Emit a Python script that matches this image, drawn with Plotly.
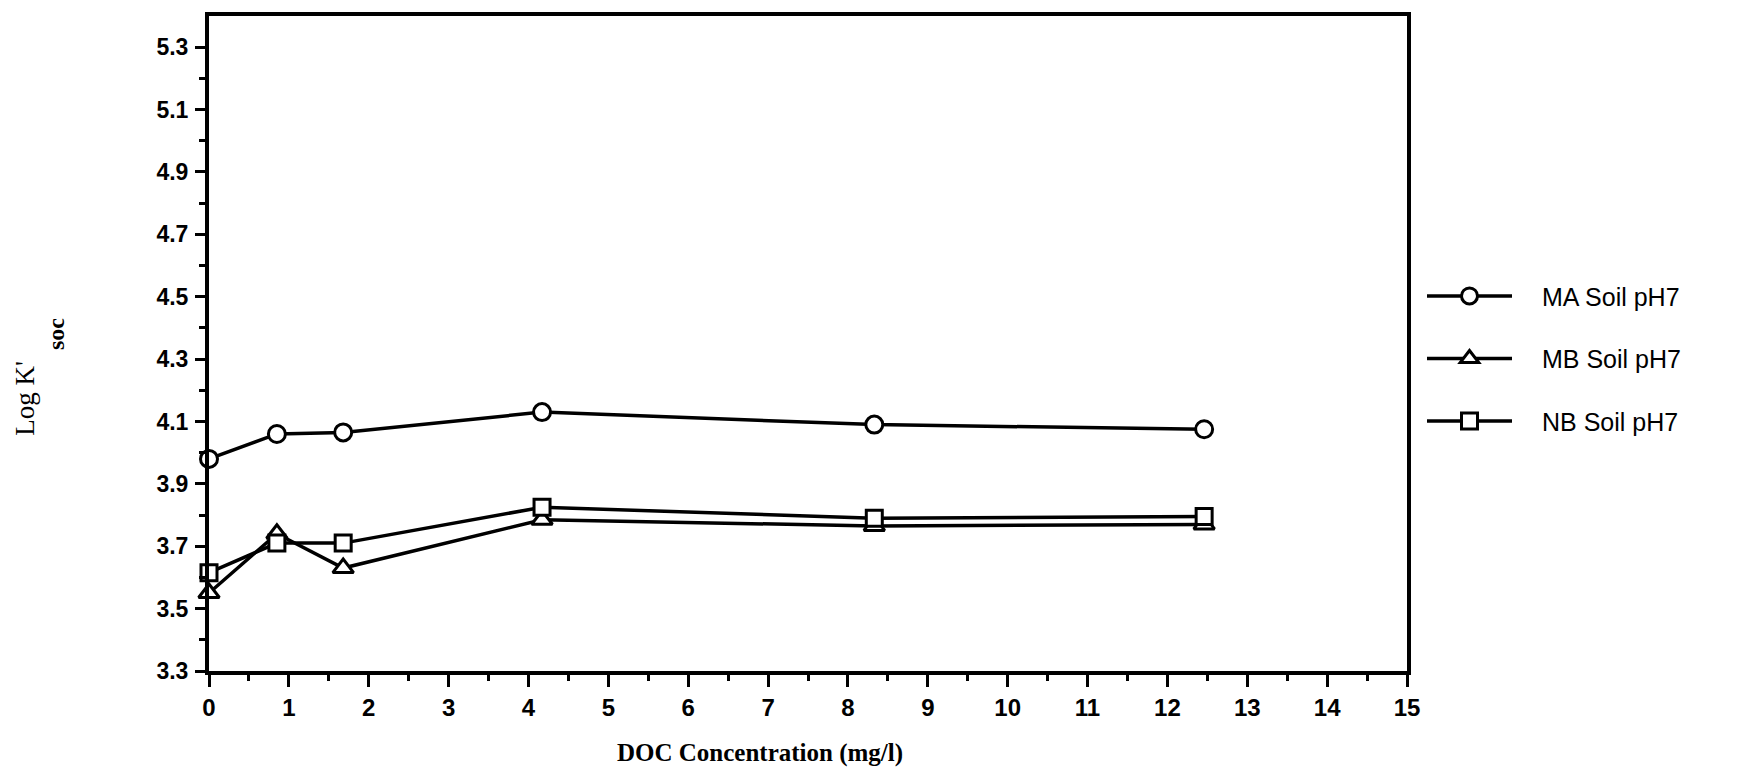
import plotly.graph_objects as go

# DOC concentration (mg/l)
doc_conc = [0, 0.85, 1.68, 4.17, 8.33, 12.46]

# Log K'soc for each soil at pH 7
ma_soil = [3.98, 4.06, 4.065, 4.13, 4.09, 4.075]
mb_soil = [3.55, 3.74, 3.63, 3.785, 3.765, 3.77]
nb_soil = [3.615, 3.71, 3.71, 3.825, 3.79, 3.795]

series_names = ["MA Soil pH7", "MB Soil pH7", "NB Soil pH7"]
series_values = [ma_soil, mb_soil, nb_soil]
series_symbols = ["circle", "triangle-up", "square"]
series_sizes = [17, 18, 16]

y_major = [3.3, 3.5, 3.7, 3.9, 4.1, 4.3, 4.5, 4.7, 4.9, 5.1, 5.3]
y_minor = [3.4, 3.6, 3.8, 4.0, 4.2, 4.4, 4.6, 4.8, 5.0, 5.2]

W, H = 1751, 769
M_L, M_R, M_T, M_B = 209, 344, 14, 98

fig = go.Figure()
for i, (name, vals, sym, sz) in enumerate(zip(series_names, series_values, series_symbols, series_sizes)):
    fig.add_trace(go.Scatter(
        x=doc_conc, y=vals,
        # en spaces open a gap between the legend sample and its label
        name="\u2002\u2002" + name,
        mode="lines+markers",
        legendgroup=f"g{i}",
        line=dict(color="black", width=3.5),
        marker=dict(symbol=sym, size=sz, color="white",
                    line=dict(color="black", width=3)),
        cliponaxis=False,
    ))

tick_font = dict(family="Liberation Sans, Arial, sans-serif", size=24, color="black", weight="bold")

fig.update_xaxes(
    range=[0, 15], tickmode="linear", tick0=0, dtick=1,
    showgrid=False, zeroline=False,
    showline=True, linewidth=4, linecolor="black", mirror=True,
    ticks="outside", ticklen=12, tickwidth=3, tickcolor="black",
    tickfont=tick_font, ticklabelstandoff=0,
    minor=dict(tickmode="linear", tick0=0, dtick=0.5, ticks="outside",
               ticklen=6, tickwidth=3, tickcolor="black"),
)
fig.update_yaxes(
    range=[3.3, 5.4], tickmode="array", tickvals=y_major,
    ticktext=[f"{v:.1f}" for v in y_major],
    showgrid=False, zeroline=False,
    showline=True, linewidth=4, linecolor="black", mirror=True,
    ticks="outside", ticklen=10, tickwidth=3, tickcolor="black",
    tickfont=dict(tick_font, size=23), ticklabelstandoff=2,
    minor=dict(tickmode="array", tickvals=y_minor, ticks="outside",
               ticklen=6, tickwidth=3, tickcolor="black"),
)

plot_w = W - M_L - M_R
plot_h = H - M_T - M_B


def px_to_paper_x(px):
    return (px - M_L) / plot_w


def px_to_paper_y(py):
    return (H - M_B - py) / plot_h


serif = "Liberation Serif, Times New Roman, serif"
annotations = [
    dict(text="DOC Concentration (mg/l)", x=px_to_paper_x(760), y=px_to_paper_y(753),
         xref="paper", yref="paper", xanchor="center", yanchor="middle",
         showarrow=False, font=dict(family=serif, size=25, color="black", weight="bold")),
    dict(text="Log K'", x=px_to_paper_x(25), y=px_to_paper_y(398),
         xref="paper", yref="paper", xanchor="center", yanchor="middle", textangle=-90,
         showarrow=False, font=dict(family=serif, size=27, color="black")),
    dict(text="soc", x=px_to_paper_x(56), y=px_to_paper_y(333),
         xref="paper", yref="paper", xanchor="center", yanchor="middle", textangle=-90,
         showarrow=False, font=dict(family=serif, size=24, color="black", weight="bold")),
]

fig.update_layout(
    width=W, height=H,
    margin=dict(l=M_L, r=M_R, t=M_T, b=M_B, pad=0),
    paper_bgcolor="white", plot_bgcolor="white",
    showlegend=True,
    legend=dict(
        x=px_to_paper_x(1422), y=px_to_paper_y(272), xanchor="left", yanchor="top",
        font=dict(family="Liberation Sans, Arial, sans-serif", size=25, color="black"),
        itemwidth=85, tracegroupgap=27, bgcolor="rgba(0,0,0,0)", borderwidth=0,
    ),
    annotations=annotations,
)

fig.write_html("out.html")
